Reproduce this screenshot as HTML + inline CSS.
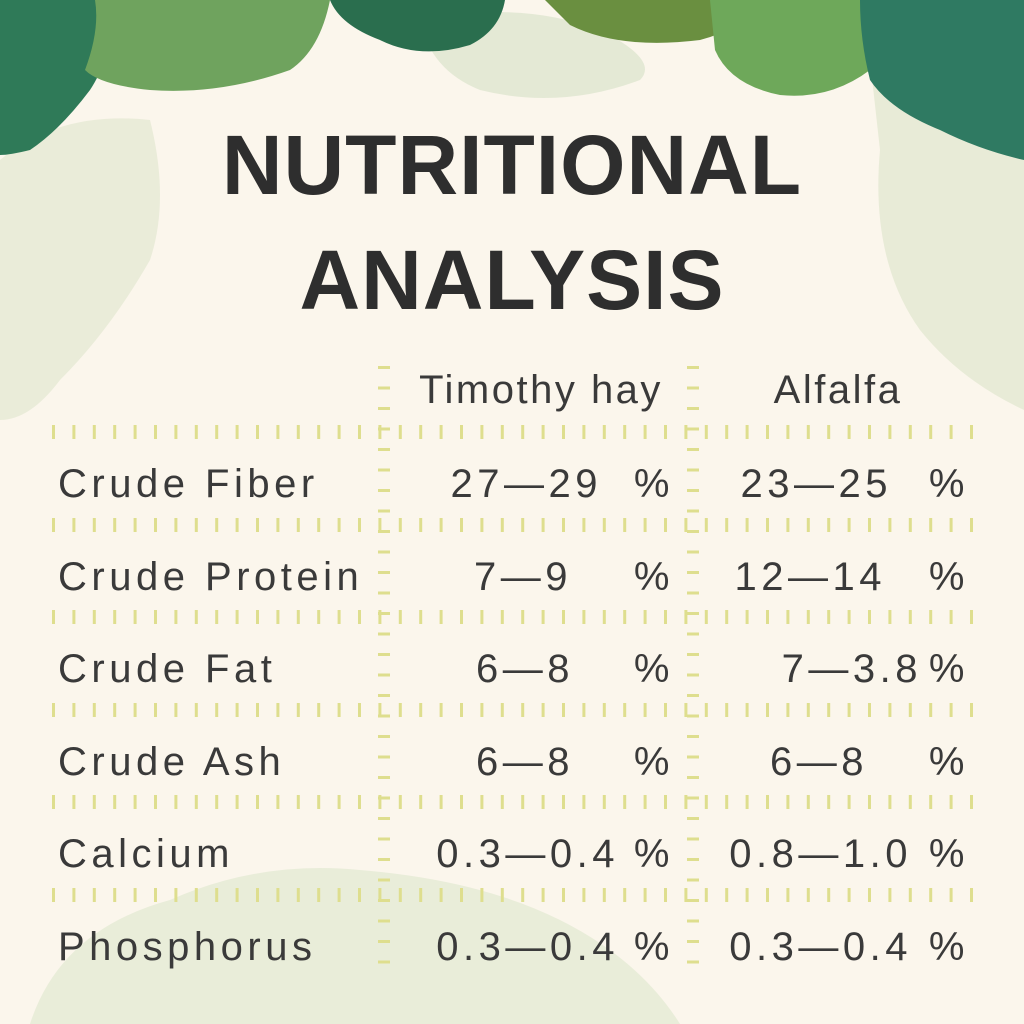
<!DOCTYPE html>
<html><head><meta charset="utf-8"><style>
html,body{margin:0;padding:0;background:#fbf6ec;}
svg{display:block}
text{font-family:"Liberation Sans","DejaVu Sans",sans-serif;fill:#3a3a3a}
</style></head><body>
<svg id="s" width="1024" height="1024" viewBox="0 0 1024 1024" xmlns="http://www.w3.org/2000/svg">
<rect width="1024" height="1024" fill="#fbf6ec"/>
<path d="M0 160 Q60 110 150 120 Q170 200 150 260 Q110 330 60 380 Q30 420 0 420Z" fill="#e6ead5" opacity="0.8"/>
<path d="M870 60 Q960 80 1024 120 L1024 410 Q960 380 920 330 Q870 260 880 150Z" fill="#e3e8d2" opacity="0.8"/>
<path d="M420 20 Q520 0 600 30 Q660 60 640 80 Q560 110 480 90 Q430 70 420 20Z" fill="#dfe6d0" opacity="0.8"/>
<path d="M30 1024 Q60 930 170 900 Q260 860 360 870 Q480 880 560 920 Q640 960 680 1024Z" fill="#e3e9d3" opacity="0.75"/>
<path d="M0 0 L120 0 Q110 60 90 90 Q60 130 30 150 Q10 155 0 155Z" fill="#2f7a58"/>
<path d="M95 0 L330 0 Q320 50 290 70 Q220 95 150 90 Q100 85 85 70 Q100 30 95 0Z" fill="#6fa35e"/>
<path d="M330 0 L505 0 Q500 30 470 45 Q420 60 380 40 Q340 25 330 0Z" fill="#2a6e4e"/>
<path d="M545 0 L760 0 Q740 30 700 40 Q620 50 570 25Z" fill="#6a8f40"/>
<path d="M710 0 L880 0 Q890 40 870 70 Q830 100 780 95 Q730 85 715 50Z" fill="#6ea85a"/>
<path d="M860 0 L1024 0 L1024 160 Q980 150 940 130 Q890 110 870 80 Q860 40 860 0Z" fill="#2f7a62"/>
<text x="512" y="194" font-size="84" font-weight="bold" text-anchor="middle" letter-spacing="1" style="fill:#2e2e2e">NUTRITIONAL</text>
<text x="512" y="309" font-size="84" font-weight="bold" text-anchor="middle" letter-spacing="1" style="fill:#2e2e2e">ANALYSIS</text>
<g id="grid" fill="#dede8e"></g>
<g font-size="40" letter-spacing="4.5">
<text x="541" y="403" text-anchor="middle" letter-spacing="2.5">Timothy hay</text>
<text x="838" y="403" text-anchor="middle" letter-spacing="2.5">Alfalfa</text>
<text x="58" y="497">Crude Fiber</text>
<text x="58" y="590">Crude Protein</text>
<text x="58" y="682">Crude Fat</text>
<text x="58" y="775">Crude Ash</text>
<text x="58" y="867">Calcium</text>
<text x="58" y="960">Phosphorus</text>
<g text-anchor="end">
<text x="602" y="497">27—29</text><text x="674" y="497">%</text>
<text x="572" y="590">7—9</text><text x="674" y="590">%</text>
<text x="574" y="682">6—8</text><text x="674" y="682">%</text>
<text x="574" y="775">6—8</text><text x="674" y="775">%</text>
<text x="619" y="867">0.3—0.4</text><text x="674" y="867">%</text>
<text x="619" y="960">0.3—0.4</text><text x="674" y="960">%</text>
<text x="892" y="497">23—25</text><text x="969" y="497">%</text>
<text x="886" y="590">12—14</text><text x="969" y="590">%</text>
<text x="922" y="682">7—3.8</text><text x="969" y="682">%</text>
<text x="868" y="775">6—8</text><text x="969" y="775">%</text>
<text x="912" y="867">0.8—1.0</text><text x="969" y="867">%</text>
<text x="912" y="960">0.3—0.4</text><text x="969" y="960">%</text>
</g></g>
</svg>
<script>
var g=document.getElementById('grid'),h='';
[425,518,610,703,795,888].forEach(function(y){for(var x=52;x<975;x+=20.4){h+='<rect x="'+x.toFixed(1)+'" y="'+y+'" width="3" height="14"/>';}});
[378,687].forEach(function(x){for(var y=366;y<972;y+=20.5){h+='<rect x="'+x+'" y="'+y.toFixed(1)+'" width="12" height="3"/>';}});
g.innerHTML=h;
</script>
</body></html>
